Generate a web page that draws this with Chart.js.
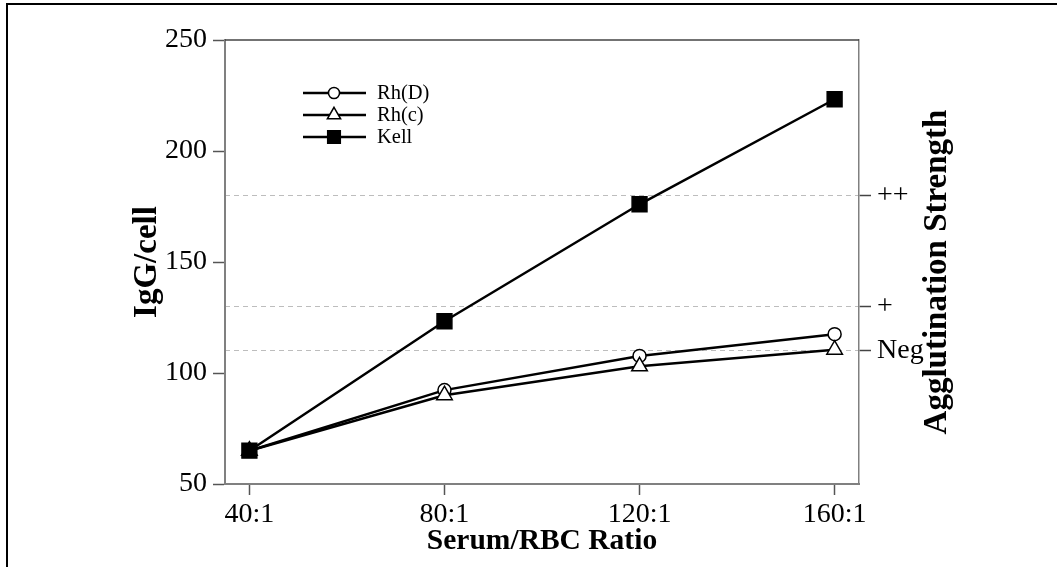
<!DOCTYPE html>
<html>
<head>
<meta charset="utf-8">
<script src="https://cdn.jsdelivr.net/npm/chart.js@4"></script>
<style>
    body { margin: 0; background: #fff; }
    #plot { display: block; }
</style>
</head>
<body>
<canvas id="plot" width="1057" height="567"></canvas>
<script>
const ratioLabels = ['40:1', '80:1', '120:1', '160:1'];
const ratios = [40, 80, 120, 160];
const rhD = [65, 92.3, 107.7, 117.5];
const rhC = [65, 90, 103, 110.5];
const kell = [65, 123.3, 176, 223.3];
const strengthLevels = [110, 130, 180];
const strengthLabels = ['Neg', '+', '++'];

const serif = '"Liberation Serif", "Times New Roman", serif';

const toPoints = (vals) => ratios.map((r, i) => ({ x: r, y: vals[i] }));

const seriesStyle = {
    'Rh(D)': { pointStyle: 'circle', pointRadius: 6.5, pointBackgroundColor: '#fff' },
    'Rh(c)': { pointStyle: 'triangle', pointRadius: 9, pointBackgroundColor: '#fff' },
    'Kell': { pointStyle: 'rect', pointRadius: 10.5, pointBackgroundColor: '#000' }
};

const makeSet = (label, vals, order) => ({
    label: label,
    data: toPoints(vals),
    borderColor: '#000',
    borderWidth: 2.5,
    pointBorderColor: '#000',
    pointBorderWidth: 1.5,
    fill: false,
    tension: 0,
    order: order,
    ...seriesStyle[label]
});

// frame, top line, legend, right title
const extras = {
    id: 'extras',
    afterDraw(chart) {
        const ctx = chart.ctx;
        const area = chart.chartArea;
        ctx.save();
        // image frame
        ctx.strokeStyle = '#000';
        ctx.lineWidth = 2;
        ctx.beginPath();
        ctx.moveTo(7, 567);
        ctx.lineTo(7, 4);
        ctx.lineTo(1057, 4);
        ctx.stroke();

        // top border of plot
        ctx.strokeStyle = '#444';
        ctx.lineWidth = 1.5;
        ctx.beginPath();
        ctx.moveTo(area.left, area.top);
        ctx.lineTo(area.right, area.top);
        ctx.stroke();

        // legend
        const x0 = area.left + 78;
        let y = area.top + 53;
        ctx.font = '20.5px ' + serif;
        ctx.textBaseline = 'middle';
        ctx.textAlign = 'left';
        chart.data.datasets.slice().sort((a, b) => a.legendIndex - b.legendIndex).forEach(ds => {
            ctx.strokeStyle = '#000';
            ctx.lineWidth = 2.5;
            ctx.beginPath();
            ctx.moveTo(x0, y);
            ctx.lineTo(x0 + 63, y);
            ctx.stroke();
            ctx.fillStyle = ds.pointBackgroundColor;
            ctx.strokeStyle = '#000';
            ctx.lineWidth = 1.5;
            Chart.helpers.drawPoint(ctx, {
                pointStyle: ds.pointStyle,
                radius: ds.pointRadius * 0.85,
                rotation: 0,
                borderWidth: 1.5
            }, x0 + 31, y);
            ctx.fillStyle = '#000';
            ctx.fillText(ds.label, x0 + 74, y + 1);
            y += 22;
        });

        // right axis title
        ctx.translate(937, (area.top + area.bottom) / 2 + 10);
        ctx.rotate(-Math.PI / 2);
        ctx.font = 'bold 33px ' + serif;
        ctx.textAlign = 'center';
        ctx.fillStyle = '#000';
        ctx.fillText('Agglutination Strength', 0, 0);
        ctx.restore();
    }
};

const datasets = [
    { ...makeSet('Rh(D)', rhD, 2), legendIndex: 0 },
    { ...makeSet('Rh(c)', rhC, 1), legendIndex: 1 },
    { ...makeSet('Kell', kell, 0), legendIndex: 2 }
];

const ctx = document.getElementById('plot').getContext('2d');
const chart = new Chart(ctx, {
    type: 'line',
    data: { datasets: datasets },
    plugins: [extras],
    options: {
        responsive: false,
        animation: false,
        layout: { padding: { top: 40, left: 0, right: 0, bottom: 0 } },
        plugins: {
            legend: { display: false },
            tooltip: { enabled: false }
        },
        scales: {
            x: {
                type: 'linear',
                min: 35,
                max: 165,
                afterBuildTicks: (scale) => {
                    scale.ticks = ratios.map(v => ({ value: v }));
                },
                afterFit: (scale) => { scale.height = 83; },
                ticks: {
                    color: '#000',
                    font: { family: serif, size: 28 },
                    padding: 3,
                    maxRotation: 0,
                    callback: (v) => ratioLabels[ratios.indexOf(v)]
                },
                grid: {
                    drawOnChartArea: false,
                    tickLength: 11,
                    tickColor: '#555',
                    tickWidth: 1.5
                },
                border: { color: '#808080', width: 2 },
                title: {
                    display: true,
                    text: 'Serum/RBC Ratio',
                    color: '#000',
                    font: { family: serif, size: 29.5, weight: 'bold' },
                    padding: { top: 0, bottom: 8 }
                }
            },
            y: {
                position: 'left',
                min: 50,
                max: 250,
                ticks: {
                    stepSize: 50,
                    color: '#000',
                    font: { family: serif, size: 28 },
                    padding: 6
                },
                afterFit: (scale) => { scale.width = 225; },
                grid: {
                    drawOnChartArea: false,
                    tickLength: 12,
                    tickColor: '#555',
                    tickWidth: 1.5
                },
                border: { color: '#808080', width: 2 },
                title: {
                    display: true,
                    text: 'IgG/cell',
                    color: '#000',
                    font: { family: serif, size: 33, weight: 'bold' },
                    padding: { top: 128, bottom: 0 }
                }
            },
            y2: {
                position: 'right',
                min: 50,
                max: 250,
                afterBuildTicks: (scale) => {
                    scale.ticks = strengthLevels.map(v => ({ value: v }));
                },
                afterFit: (scale) => { scale.width = 198; },
                ticks: {
                    color: '#000',
                    font: { family: serif, size: 28 },
                    padding: 6,
                    callback: (v) => strengthLabels[strengthLevels.indexOf(v)]
                },
                grid: {
                    drawOnChartArea: true,
                    color: '#bdbdbd',
                    lineWidth: 1,
                    tickLength: 12,
                    tickColor: '#444',
                    tickWidth: 1.5
                },
                border: { color: '#808080', width: 1.5, dash: [5, 4] }
            }
        }
    }
});
</script>
</body>
</html>
